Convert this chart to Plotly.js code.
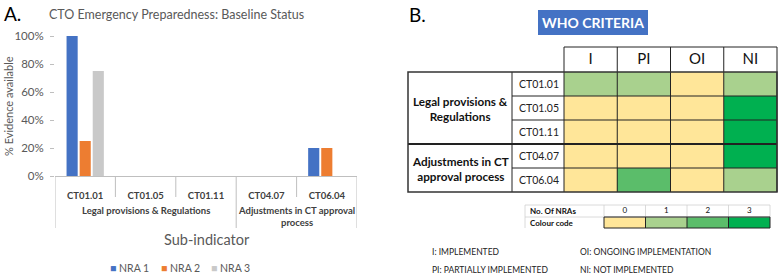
<!DOCTYPE html>
<html>
<head>
<meta charset="utf-8">
<script src="https://cdn.plot.ly/plotly-3.0.1.min.js"></script>
<style>html,body{margin:0;padding:0;background:#fff;}#chart{width:780px;height:277px;}</style>
</head>
<body>
<div id="chart"></div>
<script>
// ---------- DATA ----------
const groupLabels = ['Legal provisions & Regulations','Legal provisions & Regulations','Legal provisions & Regulations','Adjustments in CT approval<br>process','Adjustments in CT approval<br>process'];
const subIndicators = ['CT01.01','CT01.05','CT01.11','CT04.07','CT06.04'];
const nra1 = [100, 0, 0, 0, 20];
const nra2 = [25, 0, 0, 0, 20];
const nra3 = [75, 0, 0, 0, 0];
const seriesNames = ['NRA 1','NRA 2','NRA 3'];

const criteria = ['I','PI','OI','NI'];
const criteriaRows = ['CT01.01','CT01.05','CT01.11','CT04.07','CT06.04'];
const nraCounts = [
  [1,1,0,1],
  [0,0,0,3],
  [0,0,0,3],
  [0,0,0,3],
  [0,2,0,1]
];
const tableGroups = ['Legal provisions &<br>Regulations','Adjustments in CT<br>approval process'];
const tableGroupSizes = [3,2];
const legendLevels = ['0','1','2','3'];
const legendValues = [[0,1,2,3]];
const abbreviations = [
  ['I: IMPLEMENTED','OI: ONGOING IMPLEMENTATION'],
  ['PI: PARTIALLY IMPLEMENTED','NI: NOT IMPLEMENTED']
];

// ---------- LAYOUT HELPERS ----------
const W = 780, H = 277;
const px = v => v / W;
const py = v => 1 - v / H;
const FONT = 'Lato, "Open Sans", sans-serif';
const GRAY = '#595959';
const AXC = '#bfbfbf';

const colors = ['#4472C4','#ED7D31','#C9C9C9'];
const cs = [[0,'#FFE699'],[0.25,'#FFE699'],[0.25,'#A9D18E'],[0.5,'#A9D18E'],[0.5,'#5BBD6A'],[0.75,'#5BBD6A'],[0.75,'#00B050'],[1,'#00B050']];

const traces = [nra1, nra2, nra3].map((vals, i) => ({
  type: 'bar', x: subIndicators, y: vals, name: seriesNames[i],
  marker: {color: colors[i]}, xaxis: 'x', yaxis: 'y', hoverinfo: 'skip', showlegend: false
}));

traces.push({
  type: 'heatmap', x: criteria, y: criteriaRows, z: nraCounts,
  colorscale: cs, zmin: 0, zmax: 3, showscale: false,
  xaxis: 'x2', yaxis: 'y2', hoverinfo: 'skip', showlegend: false
});
traces.push({
  type: 'heatmap', x: legendLevels, y: ['Colour code'], z: legendValues,
  colorscale: cs, zmin: 0, zmax: 3, showscale: false,
  xaxis: 'x3', yaxis: 'y3', hoverinfo: 'skip', showlegend: false
});

const shapes = [];
const ann = [];
const line = (x0,y0,x1,y1,c,w) => shapes.push({type:'line',xref:'paper',yref:'paper',x0:px(x0),y0:py(y0),x1:px(x1),y1:py(y1),line:{color:c,width:w},layer:'above'});
const text = (x, y, t, size, opts) => ann.push(Object.assign({xref:'paper',yref:'paper',x:px(x),y:py(y),text:t,showarrow:false,font:{family:FONT,size:size,color:'#000'},xanchor:'center',yanchor:'middle'}, opts||{}));

// ---- bar chart x-axis structure (category boundaries & group labels) ----
const axisY = 176, subBottom = 197, grpBottom = 228;
for (let i = 0; i <= subIndicators.length; i++) {
  const isGroupEdge = i === 0 || i === subIndicators.length || groupLabels[i] !== groupLabels[i-1];
  shapes.push({type:'line', xref:'x', yref:'paper', x0:i-0.5, x1:i-0.5, y0:py(axisY), y1:py(isGroupEdge ? grpBottom : subBottom), line:{color:AXC,width:1}});
}
let gStart = 0;
for (let i = 1; i <= groupLabels.length; i++) {
  if (i === groupLabels.length || groupLabels[i] !== groupLabels[gStart]) {
    const multi = groupLabels[gStart].indexOf('<br>') >= 0;
    ann.push({xref:'x', yref:'paper', x:(gStart + i - 1)/2, y:py(210), yanchor: multi ? 'top' : 'middle', yshift: multi ? 7 : 0,
      text:'<b>' + groupLabels[gStart] + '</b>', showarrow:false, font:{family:FONT,size:9.5,color:'#404040'}});
    gStart = i;
  }
}
// manual legend
seriesNames.forEach((n, i) => ann.push({xref:'paper', yref:'paper', x:px(108 + i*50.5), y:py(268), xanchor:'left', yanchor:'middle', showarrow:false,
  text:'<span style="color:' + colors[i] + '">■</span> ' + n, font:{family:FONT,size:10.5,color:GRAY}}));

// ---- table geometry ----
const hx0 = 564, hx1 = 777, hy0 = 72, hy1 = 192;
const headTop = 47, tblLeft = 408, labelCol = 512;
const colW = (hx1 - hx0) / criteria.length;
const rowH = (hy1 - hy0) / criteriaRows.length;
const lx0 = 604, lx1 = 770, ly0 = 217, ly1 = 228, lhTop = 205, lLeft = 525;
const lColW = (lx1 - lx0) / legendLevels.length;

shapes.push({type:'rect',xref:'paper',yref:'paper',x0:px(538),x1:px(648),y0:py(35),y1:py(10),fillcolor:'#4472C4',line:{width:0},layer:'below'});
line(hx0, headTop, hx1, headTop, '#222', 1);
for (let i = 0; i <= criteria.length; i++) line(hx0 + i*colW, headTop, hx0 + i*colW, hy1, '#222', 1);
for (let r = 1; r < criteriaRows.length; r++) line(labelCol, hy0 + r*rowH, hx1, hy0 + r*rowH, '#222', 1);
let acc = 0;
const groupMid = [];
tableGroupSizes.forEach((n, gi) => {
  groupMid.push(hy0 + (acc + n/2) * rowH);
  acc += n;
  if (gi < tableGroupSizes.length - 1) line(tblLeft, hy0 + acc*rowH, hx1, hy0 + acc*rowH, '#222', 2);
});
line(labelCol, hy0, labelCol, hy1, '#222', 1);
shapes.push({type:'rect',xref:'paper',yref:'paper',x0:px(tblLeft),x1:px(hx1),y0:py(hy1),y1:py(hy0),line:{color:'#333',width:1.5},layer:'above'});
// legend table
line(lLeft, lhTop, lx1, lhTop, '#d0d0d0', 0.8);
line(lLeft, ly0, lx1, ly0, '#d0d0d0', 0.8);
for (let i = 0; i <= legendLevels.length; i++) line(lx0 + i*lColW, lhTop, lx0 + i*lColW, ly0, '#d0d0d0', 0.8);
line(lLeft, lhTop, lLeft, ly1, '#d0d0d0', 0.8);
shapes.push({type:'rect',xref:'paper',yref:'paper',x0:px(lx0),x1:px(lx1),y0:py(ly1),y1:py(ly0),line:{color:'#222',width:1},layer:'above'});
for (let i = 1; i < legendLevels.length; i++) line(lx0 + i*lColW, ly0, lx0 + i*lColW, ly1, '#222', 1);

text(2, 13, 'A.', 19, {xanchor:'left'});
text(407, 14, 'B.', 19, {xanchor:'left'});
text(176, 15, 'CTO Emergency Preparedness: Baseline Status', 12.5, {font:{family:FONT,size:12.5,color:GRAY}});
text(8, 106, '% Evidence available', 11, {textangle:-90, font:{family:FONT,size:11,color:GRAY}});
text(207, 239, 'Sub-indicator', 14.5, {font:{family:FONT,size:14.5,color:GRAY}});
text(593, 23, '<b>WHO CRITERIA</b>', 14, {font:{family:FONT,size:14,color:'#fff'}});
tableGroups.forEach((g, i) => text(460, groupMid[i], '<b>' + g + '</b>', 11.7, {font:{family:FONT,size:11.7,color:'#111'}}));
text(lLeft + 3, (lhTop + ly0)/2, '<b>No. Of NRAs</b>', 8, {xanchor:'left', font:{family:FONT,size:8,color:'#111'}});
text(lLeft + 3, (ly0 + ly1)/2, '<b>Colour code</b>', 8, {xanchor:'left', font:{family:FONT,size:8,color:'#111'}});
abbreviations.forEach((row, ri) => row.forEach((t, ci) => text(ci ? 578 : 430, ri ? 270 : 252, t, 8.5, {xanchor:'left', font:{family:FONT,size:8.5,color:'#222'}})));

const layout = {
  width: W, height: H,
  margin: {l:0, r:0, t:0, b:0},
  paper_bgcolor: '#fff', plot_bgcolor: 'rgba(0,0,0,0)',
  font: {family: FONT, color: GRAY},
  barmode: 'group', bargap: 0.35, bargroupgap: 0.15,
  showlegend: false,
  xaxis: {
    domain: [px(55), px(357)], anchor: 'y', type: 'category', range: [-0.5, subIndicators.length - 0.5],
    showline: true, linecolor: AXC, linewidth: 1, ticks: '', ticklabelstandoff: 11,
    showgrid: false, zeroline: false,
    tickfont: {family: FONT, size: 9.5, color: '#404040', weight: 'bold'},
    fixedrange: true
  },
  yaxis: {
    domain: [py(176), py(36)], anchor: 'x', range: [0, 100], dtick: 20,
    ticksuffix: '%', showgrid: false, zeroline: false, showline: false,
    ticks: 'outside', ticklen: 4, tickcolor: AXC, ticklabelstandoff: 4,
    tickfont: {family: FONT, size: 11.5, color: GRAY}, fixedrange: true
  },
  xaxis2: {
    domain: [px(hx0), px(hx1)], anchor: 'y2', side: 'top', type: 'category',
    showgrid: false, zeroline: false, ticks: '', ticklabelstandoff: 4,
    tickfont: {family: FONT, size: 15, color: '#111'}, fixedrange: true
  },
  yaxis2: {
    domain: [py(hy1), py(hy0)], anchor: 'x2', type: 'category', autorange: 'reversed',
    showgrid: false, zeroline: false, ticks: '', ticklabelstandoff: 4,
    tickfont: {family: FONT, size: 10.5, color: '#222'}, fixedrange: true
  },
  xaxis3: {
    domain: [px(lx0), px(lx1)], anchor: 'y3', side: 'top', type: 'category',
    showgrid: false, zeroline: false, ticks: '', ticklabelstandoff: 1,
    tickfont: {family: FONT, size: 8, color: '#111'}, fixedrange: true
  },
  yaxis3: {
    domain: [py(ly1), py(ly0)], anchor: 'x3', type: 'category',
    showgrid: false, zeroline: false, showline: false, ticks: '', showticklabels: false, fixedrange: true
  },
  shapes: shapes,
  annotations: ann
};

Plotly.newPlot('chart', traces, layout, {displayModeBar: false, staticPlot: true});
</script>
</body>
</html>
